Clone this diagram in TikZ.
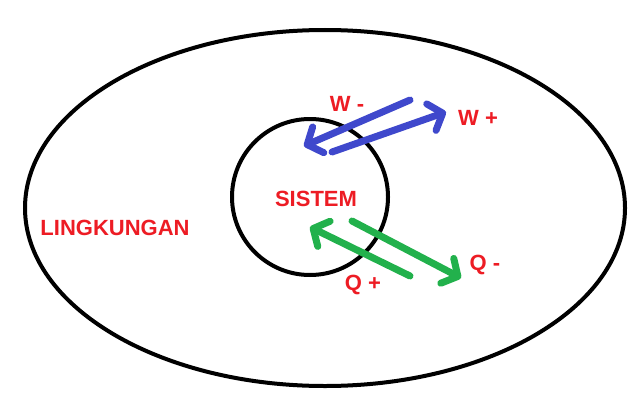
\documentclass[tikz,border=0pt]{standalone}
\usepackage{fontspec}
\setmainfont{Liberation Sans}
\usetikzlibrary{shapes.geometric, arrows.meta}
\definecolor{labelRed}{HTML}{ED1C24}
\definecolor{workBlue}{HTML}{3F48CC}
\definecolor{heatGreen}{HTML}{22B14C}

\begin{document}
\begin{tikzpicture}[
    x=1pt, y=-1pt,
    boundary/.style={draw, line width=4pt, inner sep=0pt},
    lbl/.style={text=labelRed, inner sep=0pt,
                font=\fontsize{22}{24}\selectfont\bfseries},
    flow/.style={line width=7pt, line cap=round,
                 -{Straight Barb[round, length=12pt, width=28pt]}},
]
\useasboundingbox (0,0) rectangle (644,412);

% Surroundings and system
\node[boundary, ellipse, minimum width=600pt, minimum height=356pt]
    (env) at (325,208) {};
\node[boundary, circle, minimum size=156pt] (sys) at (310,197) {};

\node[lbl] (sysLbl) at (316,199) {SISTEM};
\node[lbl] (envLbl) at (115,228) {LINGKUNGAN};

% Work arrows
\coordinate (wOutStart) at (410,100);
\coordinate (wOutEnd)   at (304,146);
\coordinate (wInStart)  at (332,152);
\coordinate (wInEnd)    at (446,112);
\draw[flow, workBlue] (wOutStart) -- (wOutEnd);
\draw[flow, workBlue] (wInStart) -- (wInEnd);
\node[lbl] (wMinus) at (347,104) {W -};
\node[lbl] (wPlus)  at (478,118) {W +};

% Heat arrows
\coordinate (qInStart)  at (410,276);
\coordinate (qInEnd)    at (310,227);
\coordinate (qOutStart) at (352,221);
\coordinate (qOutEnd)   at (461,278);
\draw[flow, heatGreen] (qInStart) -- (qInEnd);
\draw[flow, heatGreen] (qOutStart) -- (qOutEnd);
\node[lbl] (qMinus) at (485,265) {Q -};
\node[lbl] (qPlus)  at (363,285) {Q +};
\end{tikzpicture}
\end{document}
